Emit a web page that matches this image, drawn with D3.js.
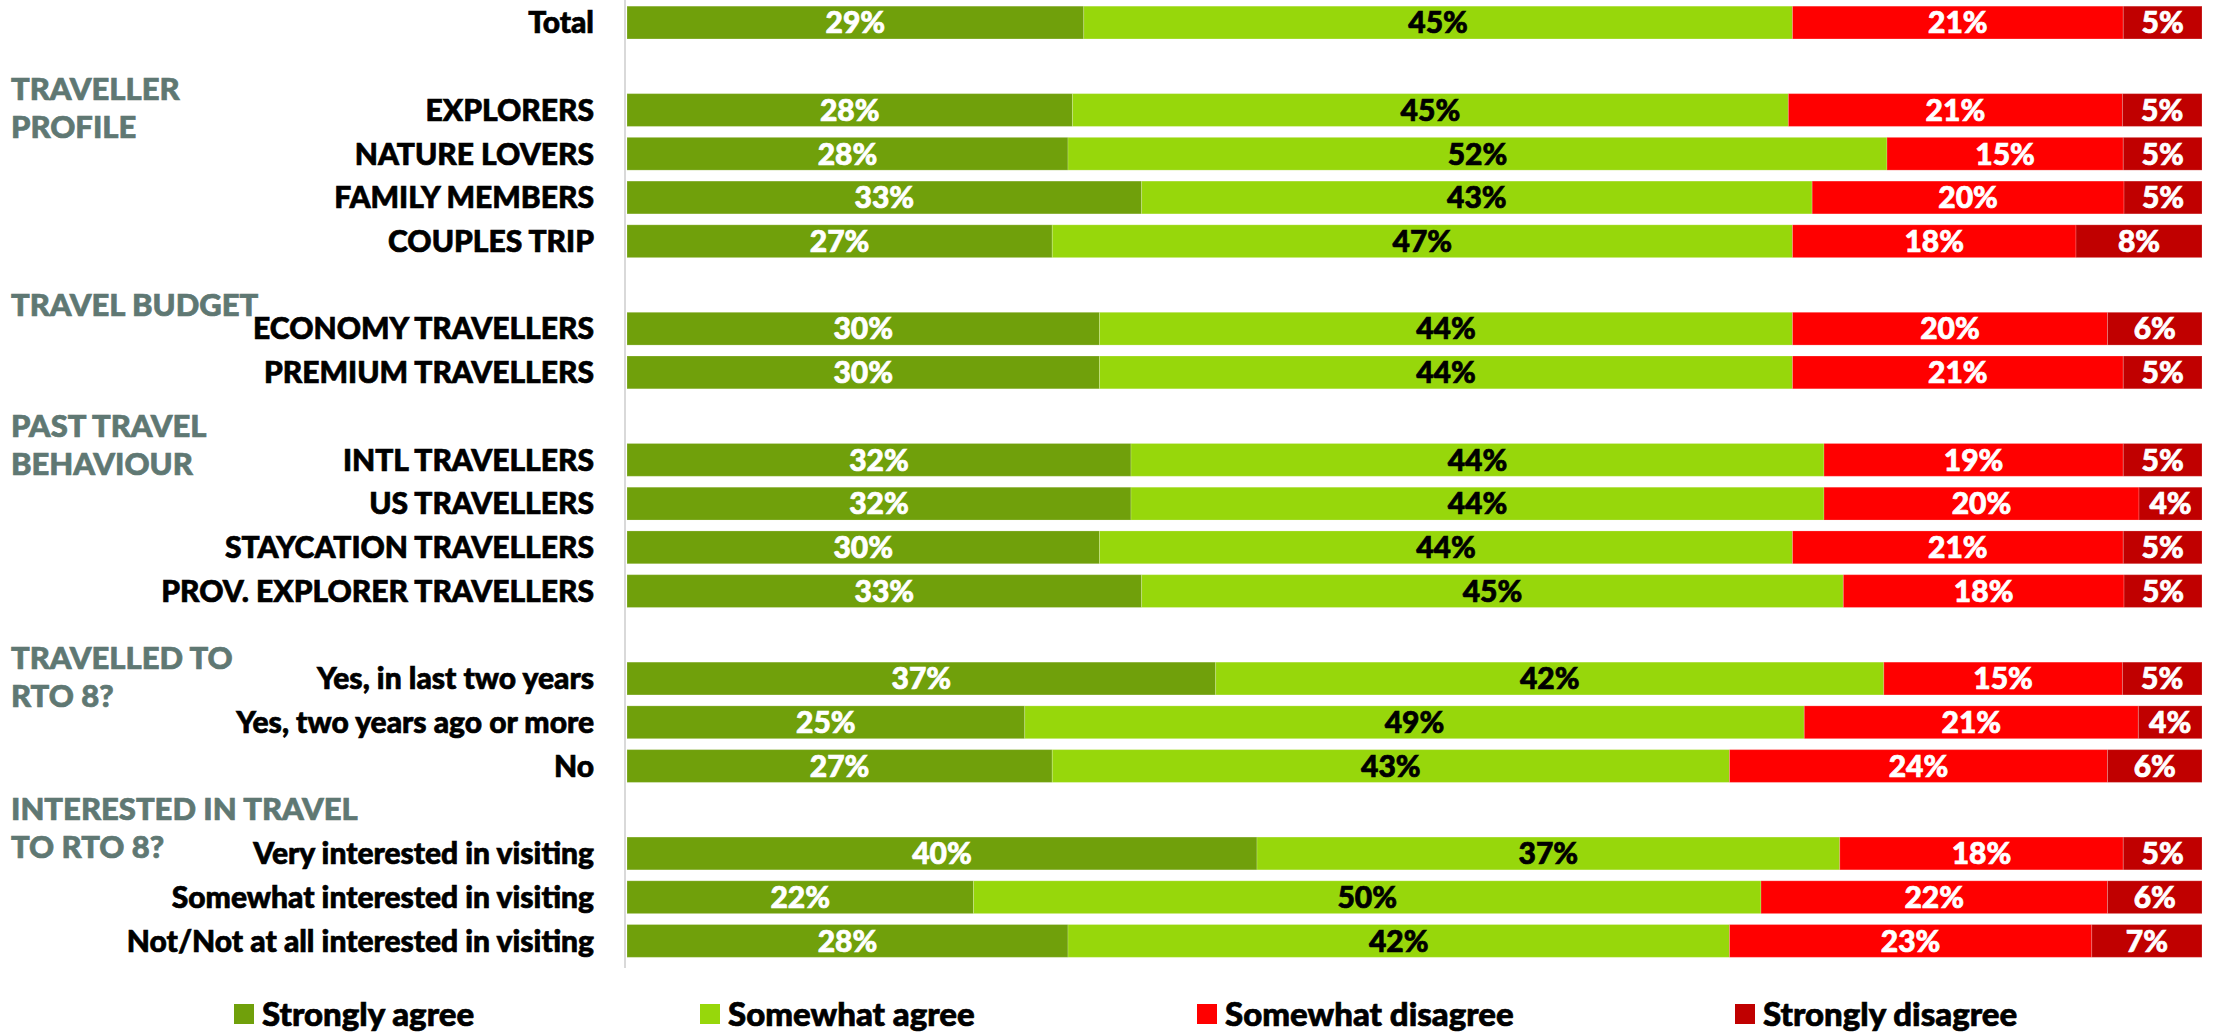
<!DOCTYPE html>
<html>
<head>
<meta charset="utf-8">
<script src="https://cdn.jsdelivr.net/npm/d3@7"></script>
<style>
  html, body { margin: 0; padding: 0; background: #ffffff; }
  svg { display: block; }
  text { font-family: Lato, "Open Sans", sans-serif; font-weight: 900; }
</style>
</head>
<body>
<svg id="chart" width="2213" height="1034"></svg>
<script>
// Segment groups shown to the left of the bars
const groupTitles = [
  [],
  ["TRAVELLER", "PROFILE"],
  ["TRAVEL BUDGET"],
  ["PAST TRAVEL", "BEHAVIOUR"],
  ["TRAVELLED TO", "RTO 8?"],
  ["INTERESTED IN TRAVEL", "TO RTO 8?"]
];

const categories = [
  "Total",
  "EXPLORERS", "NATURE LOVERS", "FAMILY MEMBERS", "COUPLES TRIP",
  "ECONOMY TRAVELLERS", "PREMIUM TRAVELLERS",
  "INTL TRAVELLERS", "US TRAVELLERS", "STAYCATION TRAVELLERS", "PROV. EXPLORER TRAVELLERS",
  "Yes, in last two years", "Yes, two years ago or more", "No",
  "Very interested in visiting", "Somewhat interested in visiting", "Not/Not at all interested in visiting"
];
const categoryGroup = [0, 1, 1, 1, 1, 2, 2, 3, 3, 3, 3, 4, 4, 4, 5, 5, 5];

const seriesNames = ["Strongly agree", "Somewhat agree", "Somewhat disagree", "Strongly disagree"];
const stronglyAgree    = [29, 28, 28, 33, 27, 30, 30, 32, 32, 30, 33, 37, 25, 27, 40, 22, 28];
const somewhatAgree    = [45, 45, 52, 43, 47, 44, 44, 44, 44, 44, 45, 42, 49, 43, 37, 50, 42];
const somewhatDisagree = [21, 21, 15, 20, 18, 20, 21, 19, 20, 21, 18, 15, 21, 24, 18, 22, 23];
const stronglyDisagree = [5, 5, 5, 5, 8, 6, 5, 5, 4, 5, 5, 5, 4, 6, 5, 6, 7];

// ---- styling / layout ----
const colors = ["#70a00b", "#97d70b", "#ff0000", "#c00000"];
const labelColors = ["#ffffff", "#000000", "#ffffff", "#ffffff"];
const headingColor = "#5f7873";
// vertical placement of each group title relative to its first row (px)
const headingShift = [0, -21, -24, -34, -21, -45];
const headingLineGap = 38;
const textWeight = 0.7; // extra stroke to give the heavy look

const svg = d3.select("#chart");

const seriesValues = [stronglyAgree, somewhatAgree, somewhatDisagree, stronglyDisagree];
const rows = categories.map((name, i) => {
  const row = { name, group: categoryGroup[i], slot: i + categoryGroup[i] };
  seriesNames.forEach((s, k) => row[s] = seriesValues[k][i]);
  row.sum = d3.sum(seriesNames, s => row[s]);
  return row;
});

const slotCount = d3.max(rows, d => d.slot) + 1;
const y = d3.scaleBand()
  .domain(d3.range(slotCount))
  .range([0.7, 962.8])
  .paddingInner(0.25)
  .paddingOuter(0.125);

const x = d3.scaleLinear().domain([0, 100]).range([627, 2202]);

// stack each row as a 100% bar
const stacked = d3.stack().keys(seriesNames)(rows.map(r => {
  const o = { name: r.name, slot: r.slot, sum: r.sum };
  seriesNames.forEach(s => o[s] = r[s] * 100 / r.sum);
  return o;
}));

// vertical axis line
svg.append("line")
  .attr("x1", 625).attr("x2", 625)
  .attr("y1", 0).attr("y2", 968)
  .attr("stroke", "#d9d9d9").attr("stroke-width", 2);

const layers = svg.append("g").selectAll("g")
  .data(stacked)
  .join("g")
  .attr("fill", (d, k) => colors[k]);

layers.selectAll("rect")
  .data(d => d)
  .join("rect")
  .attr("x", d => x(d[0]))
  .attr("width", d => x(d[1]) - x(d[0]))
  .attr("y", d => y(d.data.slot))
  .attr("height", y.bandwidth())
  .attr("stroke", "#ffffff")
  .attr("stroke-opacity", 0.2)
  .attr("stroke-width", 1);

// value labels
stacked.forEach((layer, k) => {
  svg.append("g").selectAll("text")
    .data(layer)
    .join("text")
    .attr("x", d => (x(d[0]) + x(d[1])) / 2)
    .attr("y", d => y(d.data.slot) + y.bandwidth() / 2)
    .attr("dy", "0.36em")
    .attr("text-anchor", "middle")
    .attr("font-size", 30)
    .attr("fill", labelColors[k])
    .attr("stroke", labelColors[k])
    .attr("stroke-width", textWeight)
    .text((d, i) => seriesValues[k][i] + "%");
});

// category labels
svg.append("g").selectAll("text")
  .data(rows)
  .join("text")
  .attr("x", 594)
  .attr("y", d => y(d.slot) + y.bandwidth() / 2)
  .attr("dy", "0.36em")
  .attr("text-anchor", "end")
  .attr("font-size", 30)
  .attr("fill", "#000000")
  .attr("stroke", "#000000")
  .attr("stroke-width", textWeight)
  .text(d => d.name);

// group titles
groupTitles.forEach((lines, g) => {
  if (!lines.length) return;
  const first = rows.find(r => r.group === g);
  const cy = y(first.slot) + y.bandwidth() / 2 + headingShift[g];
  lines.forEach((line, j) => {
    svg.append("text")
      .attr("x", 11)
      .attr("y", cy + j * headingLineGap)
      .attr("dy", "0.36em")
      .attr("font-size", 31)
      .attr("fill", headingColor)
      .attr("stroke", headingColor)
      .attr("stroke-width", textWeight)
      .text(line);
  });
});

// legend
const legendX = [234, 700, 1197, 1735];
const legend = svg.append("g").selectAll("g")
  .data(seriesNames)
  .join("g")
  .attr("transform", (d, k) => `translate(${legendX[k]},1014)`);
legend.append("rect")
  .attr("x", 0).attr("y", -10)
  .attr("width", 20).attr("height", 20)
  .attr("fill", (d, k) => colors[k]);
legend.append("text")
  .attr("x", 28).attr("y", 0)
  .attr("dy", "0.36em")
  .attr("font-size", 33)
  .attr("fill", "#000000")
  .attr("stroke", "#000000")
  .attr("stroke-width", textWeight)
  .text(d => d);
</script>
</body>
</html>
